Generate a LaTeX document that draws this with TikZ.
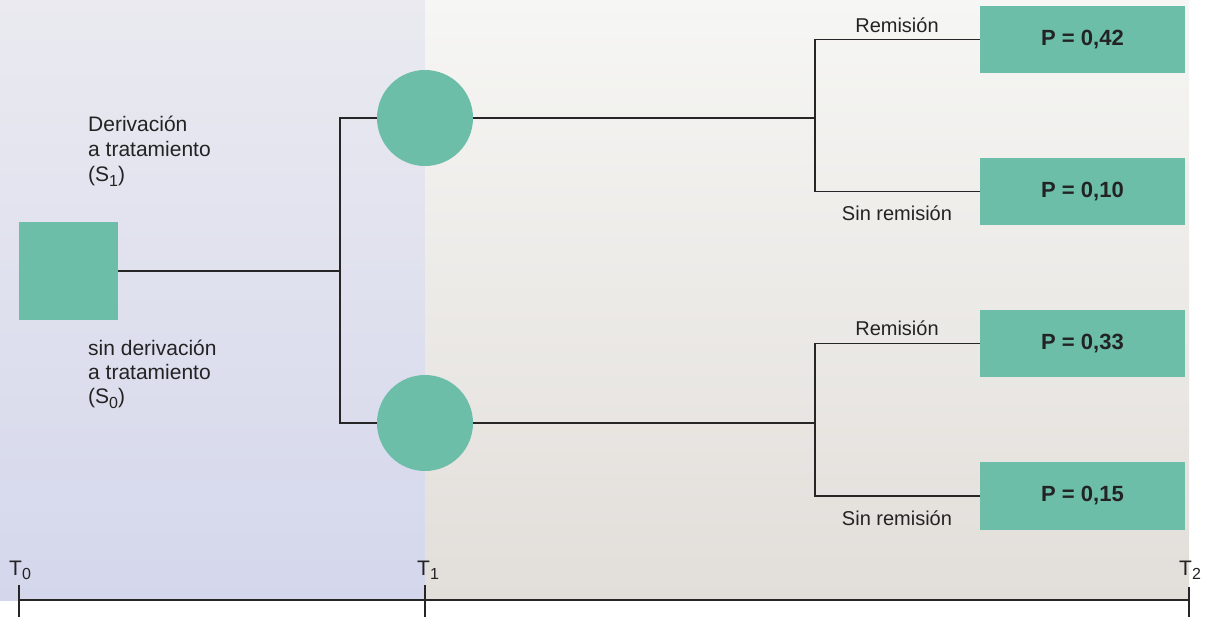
\documentclass[tikz,border=0pt]{standalone}
\usepackage{fontspec}
\setmainfont{Liberation Sans}
\definecolor{teal1}{RGB}{108,190,169}
\definecolor{txt}{RGB}{35,35,35}
\definecolor{lavtop}{RGB}{234,234,240}
\definecolor{lavbot}{RGB}{212,215,236}
\definecolor{begtop}{RGB}{246,246,244}
\definecolor{begbot}{RGB}{226,222,218}
\newcommand{\sbs}[1]{\raisebox{-0.4ex}{\fontsize{16}{16}\selectfont #1}}
\begin{document}
\begin{tikzpicture}[x=1pt,y=-1pt,
  every node/.style={text=txt},
  lbl/.style={font=\fontsize{20}{24}\selectfont, inner sep=0pt},
  pbox/.style={fill=teal1, minimum width=205pt, minimum height=67pt, inner sep=0pt, font=\fontsize{22}{24}\selectfont\bfseries},
  conn/.style={line width=1.4pt, draw=black!85},
  axis/.style={line width=1.5pt, draw=black!85}]
\useasboundingbox (0,0) rectangle (1208,617);
\fill[white] (0,0) rectangle (1208,617);
\shade[top color=lavtop, bottom color=lavbot] (0,0) rectangle (425,600);
\shade[top color=begtop, bottom color=begbot] (425,0) rectangle (1189,600);
% nodes
\node[fill=teal1, minimum width=99pt, minimum height=98pt, inner sep=0pt] (sq) at (68.5,271) {};
\node[circle, fill=teal1, minimum size=96pt, inner sep=0pt] (c1) at (425,118) {};
\node[circle, fill=teal1, minimum size=96pt, inner sep=0pt] (c2) at (425,423) {};
\node[pbox] (b1) at (1082.5,39.5) {P = 0,42};
\node[pbox] (b2) at (1082.5,191.5) {P = 0,10};
\node[pbox] (b3) at (1082.5,343.5) {P = 0,33};
\node[pbox] (b4) at (1082.5,496) {P = 0,15};
\coordinate (j0) at (340,271);
\coordinate (j1) at (815,118);
\coordinate (j2) at (815,423);
% connectors
\draw[conn] (sq.east) -- (j0);
\draw[conn] (c1.west) -| (j0) |- (c2.west);
\draw[conn] (c1.east) -- (j1);
\draw[conn] (b1.west) -| (j1) |- (b2.west);
\draw[conn] (c2.east) -- (j2);
\draw[conn] (b3.west) -| (j2) |- (b4.west);
% labels
\node[lbl] (r1) at (897,25) {Remisión};
\node[lbl] (s1) at (897,213) {Sin remisión};
\node[lbl] (r2) at (897,328) {Remisión};
\node[lbl] (s2) at (897,518) {Sin remisión};
\node[lbl, anchor=north west, align=left, font=\fontsize{21}{25}\selectfont] (d1) at (88,116) {Derivación\\a tratamiento\\(S\sbs{1})};
\node[lbl, anchor=north west, align=left, font=\fontsize{21}{24}\selectfont] (d0) at (88,340) {sin derivación\\a tratamiento\\(S\sbs{0})};
% axis
\coordinate (t0) at (19,600);
\coordinate (t1) at (425,600);
\coordinate (t2) at (1189,600);
\draw[axis] (t0) -- (t2);
\draw[axis] (19,585) -- (19,617);
\draw[axis] (425,585) -- (425,617);
\draw[axis] (1189,587) -- (1189,617);
\node[lbl, anchor=base west, font=\fontsize{21}{24}\selectfont] (T0) at (9,575) {T\sbs{0}};
\node[lbl, anchor=base west, font=\fontsize{21}{24}\selectfont] (T1) at (417,575) {T\sbs{1}};
\node[lbl, anchor=base west, font=\fontsize{21}{24}\selectfont] (T2) at (1179,575) {T\sbs{2}};
\end{tikzpicture}
\end{document}
